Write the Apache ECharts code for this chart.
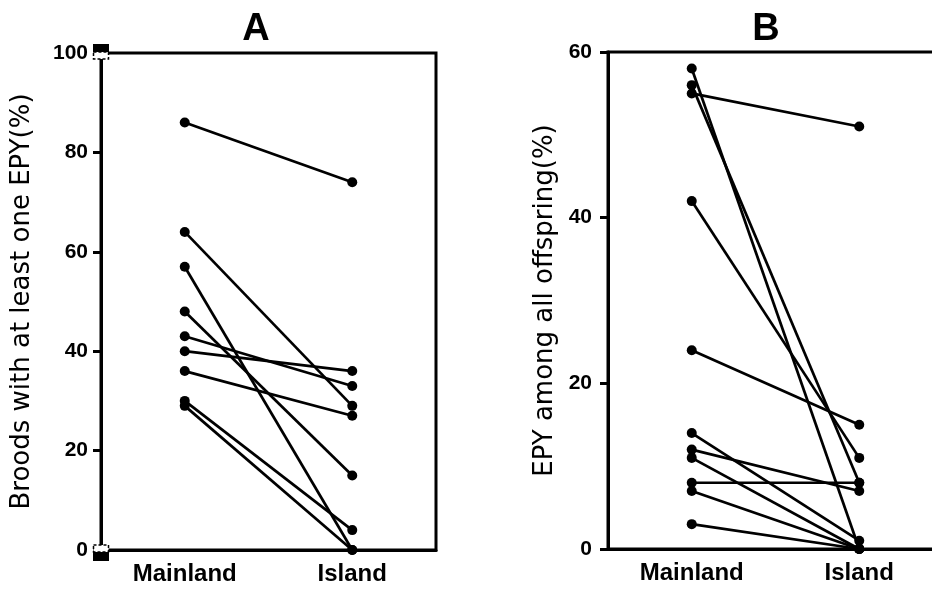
<!DOCTYPE html>
<html>
<head>
<meta charset="utf-8">
<script src="https://cdn.jsdelivr.net/npm/echarts@6/dist/echarts.min.js"></script>
<style>
  html, body { margin: 0; padding: 0; background: #fff; }
  #chart { width: 932px; height: 589px; }
</style>
</head>
<body>
<div id="chart"></div>
<script>
// paired values, one bird population per index
const categories = ['Mainland', 'Island'];

const mainlandA = [86, 64, 57, 48, 43, 40, 36, 30, 29];
const islandA   = [74, 29,  0, 15, 33, 36, 27,  4,  0];

const mainlandB = [58, 56, 55, 42, 24, 14, 12, 11, 8, 7, 3];
const islandB   = [ 0,  8, 51, 11, 15,  1,  7,  0, 8, 0, 0];

const ticksA = { min: 0, max: 100, interval: 20 };
const ticksB = { min: 0, max: 60, interval: 20 };

const FONT = 'Liberation Sans, Arial, sans-serif';
const NAME_FONT = 'DejaVu Sans, sans-serif';
// panel B's frame runs past the right edge of the picture, as in the source figure
const GRID_A = { left: 101, top: 53, width: 335, height: 497 };
const GRID_B = { left: 608, top: 52, width: 335, height: 497 };

const chart = echarts.init(document.getElementById('chart'));

function pairSeries(mainland, island, idx) {
  return mainland.map((m, i) => ({
    type: 'line',
    xAxisIndex: idx,
    yAxisIndex: idx,
    data: [m, island[i]],
    symbol: 'circle',
    symbolSize: 10,
    itemStyle: { color: '#000' },
    lineStyle: { color: '#000', width: 2.7 },
    animation: false,
    silent: true,
  }));
}

function xAxis(idx) {
  return {
    type: 'category',
    gridIndex: idx,
    data: categories,
    boundaryGap: true,
    axisLine: { lineStyle: { color: '#000', width: 3 } },
    axisTick: { show: false },
    axisLabel: { color: '#000', fontFamily: FONT, fontWeight: 'bold', fontSize: 24, margin: 12 },
  };
}

function yAxis(idx, t, name, gap, labelMargin) {
  return {
    type: 'value',
    gridIndex: idx,
    min: t.min, max: t.max, interval: t.interval,
    name,
    nameLocation: 'middle',
    nameGap: gap,
    nameTextStyle: { color: '#000', fontFamily: NAME_FONT, fontSize: 26 },
    splitLine: { show: false },
    axisLine: { show: true, lineStyle: { color: '#000', width: 3 } },
    axisTick: { show: true, length: 8, lineStyle: { color: '#000', width: 3 } },
    axisLabel: { color: '#000', fontFamily: FONT, fontWeight: 'bold', fontSize: 21, margin: labelMargin },
  };
}

const gridStyle = { show: true, borderColor: '#000', borderWidth: 3, outerBoundsMode: 'none', containLabel: false };

chart.setOption({
  backgroundColor: '#fff',
  title: [
    { text: 'A', left: 251, top: 6, textAlign: 'center',
      textStyle: { fontFamily: FONT, fontSize: 38, fontWeight: 'bold', color: '#000' } },
    { text: 'B', left: 761, top: 6, textAlign: 'center',
      textStyle: { fontFamily: FONT, fontSize: 38, fontWeight: 'bold', color: '#000' } },
  ],
  grid: [
    Object.assign({}, gridStyle, GRID_A),
    Object.assign({}, gridStyle, GRID_B),
  ],
  xAxis: [xAxis(0), xAxis(1)],
  yAxis: [
    yAxis(0, ticksA, 'Broods with at least one EPY(%)', 66, 13),
    yAxis(1, ticksB, 'EPY among all offspring(%)', 50, 16),
  ],
  series: [...pairSeries(mainlandA, islandA, 0), ...pairSeries(mainlandB, islandB, 1)],
});

// axis-break marks at both ends of panel A's y axis
const yTop = chart.convertToPixel({ gridIndex: 0 }, ['Mainland', ticksA.max])[1];
const yBot = chart.convertToPixel({ gridIndex: 0 }, ['Mainland', ticksA.min])[1];
const ax = GRID_A.left;
chart.setOption({
  graphic: [
    { type: 'rect', shape: { x: ax - 8, y: yTop - 9, width: 16, height: 8 }, style: { fill: '#000' }, z: 100 },
    { type: 'rect', shape: { x: ax - 7.5, y: yTop - 1, width: 15, height: 7 }, style: { fill: '#fff', stroke: '#000', lineWidth: 1.5, lineDash: [3, 2] }, z: 100 },
    { type: 'rect', shape: { x: ax - 7.5, y: yBot - 5, width: 15, height: 7 }, style: { fill: '#fff', stroke: '#000', lineWidth: 1.5, lineDash: [3, 2] }, z: 100 },
    { type: 'rect', shape: { x: ax - 8, y: yBot + 2, width: 16, height: 9 }, style: { fill: '#000' }, z: 100 },
  ],
});
</script>
</body>
</html>
